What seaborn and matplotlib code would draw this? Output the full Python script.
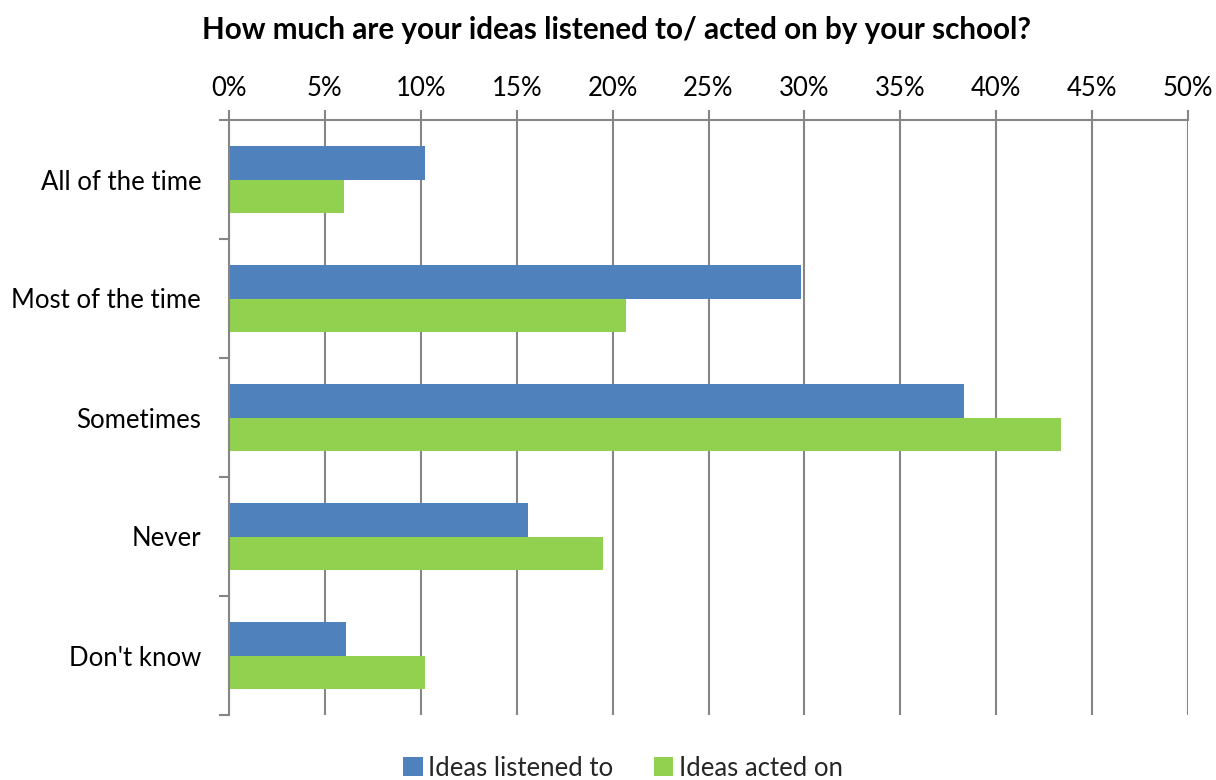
import pandas as pd
import numpy as np
import matplotlib.pyplot as plt
import seaborn as sns
from matplotlib.ticker import FixedLocator, PercentFormatter

sns.set_theme(style="white")
plt.rcParams['font.family'] = ['Lato', 'DejaVu Sans']

# Data
categories = ['All of the time', 'Most of the time', 'Sometimes', 'Never', "Don't know"]
listened_to = [10.2, 29.8, 38.3, 15.6, 6.1]
acted_on = [6.0, 20.7, 43.4, 19.5, 10.2]
series_names = ['Ideas listened to', 'Ideas acted on']
colors = ['#4F81BD', '#92D050']

df = pd.DataFrame({
    'category': categories * 2,
    'value': listened_to + acted_on,
    'series': [series_names[0]] * len(categories) + [series_names[1]] * len(categories),
})

fig = plt.figure(figsize=(12.16, 7.8), dpi=100)
ax = fig.add_axes([229 / 1216, 1 - 715 / 780, (1188 - 229) / 1216, (715 - 120) / 780])

sns.barplot(data=df, y='category', x='value', hue='series', order=categories,
            hue_order=series_names, palette=colors, orient='h', width=0.57,
            saturation=1, linewidth=0, ax=ax, legend=True)

grid_c = '#868686'
ax.set_xlim(0, 50)
ax.set_ylim(len(categories) - 0.5, -0.5)
ax.xaxis.tick_top()
ax.set_xticks(np.arange(0, 51, 5))
ax.xaxis.set_major_formatter(PercentFormatter(decimals=0))
ax.grid(axis='x', color=grid_c, linewidth=1.5)
ax.set_axisbelow(True)
ax.tick_params(axis='x', which='major', length=7, width=1.5, color=grid_c,
               pad=7, labelsize=18.5, labelcolor='black')

# category boundary ticks on the y axis
ax.yaxis.set_minor_locator(FixedLocator(np.arange(-0.5, len(categories), 1)))
ax.tick_params(axis='y', which='major', length=0, pad=20, labelsize=18.5, labelcolor='black')
ax.tick_params(axis='y', which='minor', left=True, length=7, width=1.5, color=grid_c)

for side in ['right', 'bottom']:
    ax.spines[side].set_visible(False)
for side in ['left', 'top']:
    ax.spines[side].set_color(grid_c)
    ax.spines[side].set_linewidth(1.5)

ax.set_xlabel('')
ax.set_ylabel('')

handles, labels = ax.get_legend_handles_labels()
ax.get_legend().remove()
fig.legend(handles, labels, loc='center', bbox_to_anchor=(623 / 1216, 1 - 768 / 780),
           ncol=2, frameon=False, fontsize=18.5, handlelength=0.75, handleheight=0.75,
           handletextpad=0.2, columnspacing=1.6)

fig.text(617 / 1216, 1 - 30 / 780, 'How much are your ideas listened to/ acted on by your school?',
         ha='center', va='center', fontsize=21.3, fontweight='bold', color='black')

fig.savefig('out.png', dpi=100)
